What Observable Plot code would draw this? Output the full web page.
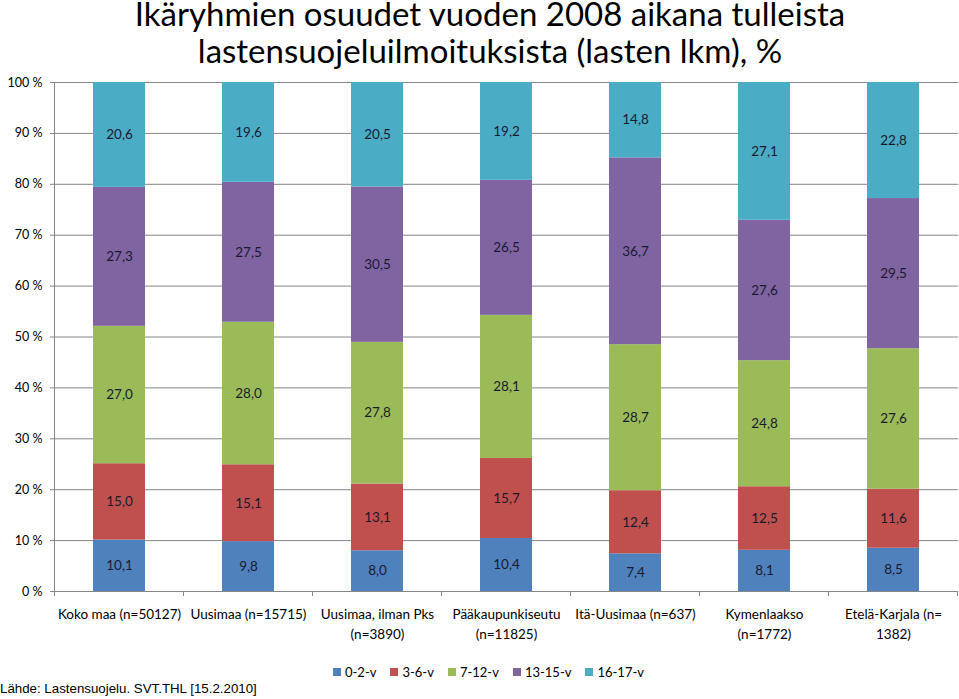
<!DOCTYPE html>
<html><head><meta charset="utf-8">
<script src="https://cdn.jsdelivr.net/npm/d3@7"></script>
<script src="https://cdn.jsdelivr.net/npm/@observablehq/plot@0.6"></script>
<style>
body{margin:0;background:#fff;}
#wrap{position:relative;width:959px;height:699px;overflow:hidden;font-family:Lato,"Open Sans",sans-serif;color:#000;}
.tl{position:absolute;left:0;width:980px;text-align:center;font-size:33px;line-height:0.75;white-space:nowrap;}
#chart{position:absolute;left:0;top:0;}
#legend{position:absolute;left:333px;top:663px;display:flex;font-size:13px;line-height:18px;}
#legend .it{display:flex;align-items:center;margin-right:14px;}
#legend .sw{width:8px;height:8px;margin-right:4px;}
#source{position:absolute;left:0;top:681px;font-family:"Liberation Sans",Arial,sans-serif;font-size:13.3px;line-height:16px;}
</style></head>
<body><div id="wrap">
<div id="chart"></div>
<div class="tl" style="top:1px">Ikäryhmien osuudet vuoden 2008 aikana tulleista</div>
<div class="tl" style="top:38px">lastensuojeluilmoituksista (lasten lkm), %</div>
<div id="legend"></div>
<div id="source">Lähde: Lastensuojelu. SVT.THL [15.2.2010]</div>
</div>
<script>
const categories = ["Koko maa (n=50127)", "Uusimaa (n=15715)", "Uusimaa, ilman Pks (n=3890)", "Pääkaupunkiseutu (n=11825)", "Itä-Uusimaa (n=637)", "Kymenlaakso (n=1772)", "Etelä-Karjala (n=1382)"];
const tickLabels = ["Koko maa (n=50127)", "Uusimaa (n=15715)", "Uusimaa, ilman Pks\n(n=3890)", "Pääkaupunkiseutu\n(n=11825)", "Itä-Uusimaa (n=637)", "Kymenlaakso\n(n=1772)", "Etelä-Karjala (n=\n1382)"];
const ages = ["0-2-v", "3-6-v", "7-12-v", "13-15-v", "16-17-v"];
const v0_2   = [10.1, 9.8, 8.0, 10.4, 7.4, 8.1, 8.5];
const v3_6   = [15.0, 15.1, 13.1, 15.7, 12.4, 12.5, 11.6];
const v7_12  = [27.0, 28.0, 27.8, 28.1, 28.7, 24.8, 27.6];
const v13_15 = [27.3, 27.5, 30.5, 26.5, 36.7, 27.6, 29.5];
const v16_17 = [20.6, 19.6, 20.5, 19.2, 14.8, 27.1, 22.8];
const yTicks = [0, 10, 20, 30, 40, 50, 60, 70, 80, 90, 100];
const colors = ["#4F81BD", "#C0504D", "#9BBB59", "#8064A2", "#4BACC6"];

const series = [v0_2, v3_6, v7_12, v13_15, v16_17];
const data = [];
series.forEach((vals, i) => vals.forEach((v, j) => data.push({age: ages[i], cat: categories[j], value: v})));

const fmt = v => v.toFixed(1).replace(".", ",");
const PI = 0.6;
const stackOpts = {offset: "normalize", order: null};

function bandTicks(index, scales) {
  const x = scales.x, y = scales.y;
  let step, bw;
  if (typeof x.step === "function") { step = x.step(); bw = x.bandwidth(); }
  else { step = x(categories[1]) - x(categories[0]); bw = step * (1 - PI); }
  const gap = step - bw;
  const edges = categories.map(c => x(c) - gap / 2);
  edges.push(x(categories[categories.length - 1]) + bw + gap / 2);
  const y0 = y(0);
  const g = d3.create("svg:g").attr("stroke", "#868686");
  for (const e of edges) g.append("line").attr("x1", e).attr("x2", e).attr("y1", y0).attr("y2", y0 + 5);
  return g.node();
}

const plot = Plot.plot({
  width: 959,
  height: 660,
  marginTop: 82,
  marginLeft: 54,
  marginRight: 1,
  marginBottom: 69,
  style: {fontFamily: "Lato, 'Open Sans', sans-serif", fontSize: "13px", color: "#000", background: "transparent"},
  x: {domain: categories, paddingInner: PI, paddingOuter: PI / 2, label: null},
  y: {domain: [0, 1], label: null},
  color: {domain: ages, range: colors},
  marks: [
    Plot.gridY(yTicks.map(t => t / 100), {stroke: "#868686", strokeOpacity: 1}),
    Plot.frame({anchor: "left", stroke: "#868686"}),
    Plot.axisY(yTicks.map(t => t / 100), {tickFormat: d => Math.round(d * 100) + " %", tickSize: 4, tickPadding: 8, stroke: "#868686", fontSize: 12.5, fill: "#000"}),
    Plot.axisX({tickSize: 0, tickPadding: 13, tickFormat: d => tickLabels[categories.indexOf(d)], lineHeight: 1.5, fontSize: 13.5, fill: "#000", label: null}),
    Plot.barY(data, Plot.stackY({...stackOpts, x: "cat", y: "value", z: "age", fill: "age"})),
    Plot.text(data, Plot.stackY({...stackOpts, x: "cat", y: "value", z: "age", text: d => fmt(d.value), fill: "#1a1a2e", fontSize: 13.5})),
    bandTicks
  ]
});
document.getElementById("chart").appendChild(plot);

const leg = document.getElementById("legend");
ages.forEach((a, i) => {
  const it = document.createElement("div"); it.className = "it";
  it.innerHTML = `<span class="sw" style="background:${colors[i]}"></span><span>${a}</span>`;
  leg.appendChild(it);
});
</script>
</body></html>
